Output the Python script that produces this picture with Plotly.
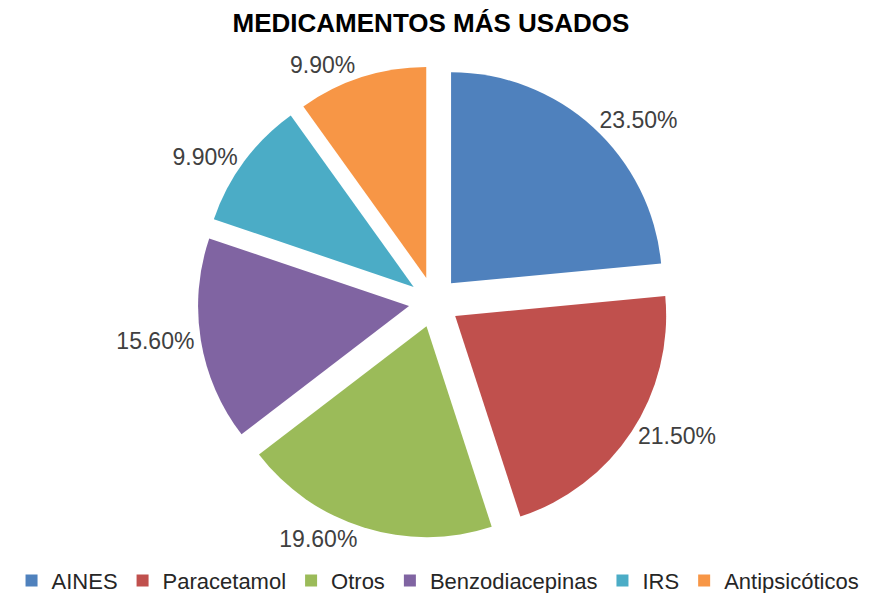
import plotly.graph_objects as go

categories = ["AINES", "Paracetamol", "Otros", "Benzodiacepinas", "IRS", "Antipsicóticos"]
values = [23.5, 21.5, 19.6, 15.6, 9.9, 9.9]
colors = ["#4F81BD", "#C0504D", "#9BBB59", "#8064A2", "#4BACC6", "#F79646"]

fig = go.Figure()
fig.add_trace(go.Pie(
    labels=categories,
    values=values,
    sort=False,
    direction="clockwise",
    rotation=0,
    pull=[0.12] * len(values),
    marker=dict(colors=colors, line=dict(color="white", width=0)),
    texttemplate="%{value:.2f}%",
    textposition="outside",
    textfont=dict(family="Liberation Sans, Arial", size=23, color="#404040"),
    hoverinfo="label+value",
    domain=dict(x=[0.2173, 0.7587], y=[0.0341, 0.8949]),
))

fig.update_layout(
    width=873,
    height=593,
    paper_bgcolor="white",
    plot_bgcolor="white",
    title=dict(
        text="<b>MEDICAMENTOS MÁS USADOS</b>",
        x=0.4845,
        xanchor="center",
        y=0.99,
        yanchor="top",
        font=dict(family="Liberation Sans, Arial", size=26, color="black"),
    ),
    margin=dict(l=0, r=0, t=0, b=44, autoexpand=False),
    legend=dict(
        orientation="h",
        x=0.4926,
        xanchor="center",
        y=-0.005,
        yanchor="top",
        font=dict(family="Liberation Sans, Arial", size=22, color="#262626"),
    ),
    showlegend=True,
)

fig.write_html("out.html")
